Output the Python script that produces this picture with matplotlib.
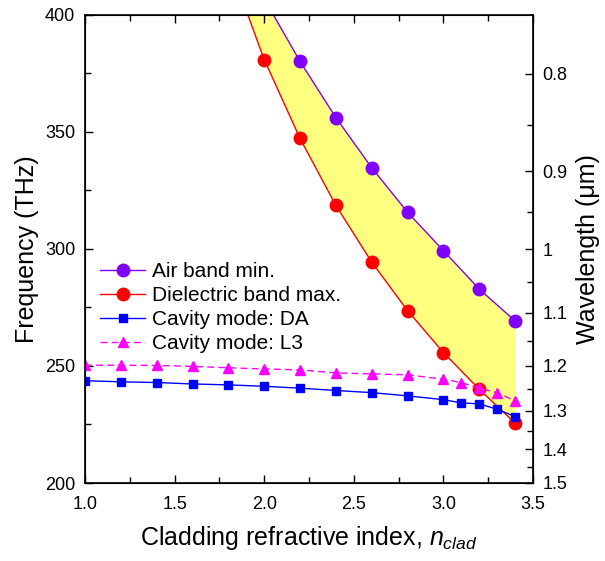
import matplotlib
matplotlib.use("Agg")
import matplotlib.pyplot as plt
from matplotlib.ticker import MultipleLocator, FixedLocator
import numpy as np

plt.rcParams['font.family'] = ['Liberation Sans', 'DejaVu Sans']
plt.rcParams['mathtext.fontset'] = 'custom'
plt.rcParams['mathtext.rm'] = 'Liberation Sans'
plt.rcParams['mathtext.it'] = 'Liberation Sans:italic'

# Air band minimum (THz)
air_x = [2.0, 2.2, 2.4, 2.6, 2.8, 3.0, 3.2, 3.4]
air_f = [406.7, 380.0, 356.0, 334.6, 315.6, 299.2, 282.8, 269.2]

# Dielectric band maximum (THz)
diel_x = [1.8, 2.0, 2.2, 2.4, 2.6, 2.8, 3.0, 3.2, 3.4]
diel_f = [422.5, 380.8, 347.1, 318.5, 294.3, 273.6, 255.7, 240.0, 225.6]

# Cavity modes
cav_x = [1.0, 1.2, 1.4, 1.6, 1.8, 2.0, 2.2, 2.4, 2.6, 2.8, 3.0, 3.1, 3.2, 3.3, 3.4]
da_f = [243.7, 243.2, 242.9, 242.3, 241.9, 241.3, 240.5, 239.5, 238.6, 237.2,
        235.6, 234.2, 233.8, 231.5, 228.4]
l3_f = [250.3, 250.3, 250.2, 249.8, 249.2, 248.7, 248.3, 247.0, 246.6, 246.2,
        244.3, 242.9, 240.5, 238.6, 235.0]

wl_major = [0.8, 0.9, 1.0, 1.1, 1.2, 1.3, 1.4, 1.5]
wl_major_labels = ['0.8', '0.9', '1', '1.1', '1.2', '1.3', '1.4', '1.5']
wl_minor = [0.85, 0.95, 1.05, 1.15, 1.25, 1.35, 1.45]
c_light = 299.792458  # um*THz

fig = plt.figure(figsize=(6.05, 5.61), dpi=100)
ax = fig.add_axes([0.1405, 0.139, 0.7405, 0.835])

# yellow band gap fill
poly_x = list(air_x) + list(diel_x[::-1])
poly_y = list(air_f) + list(diel_f[::-1])
ax.fill(poly_x, poly_y, color='#FFFF80', lw=0, zorder=1)

ax.plot(air_x, air_f, '-o', color='#8000FF', mfc='#8000FF', mec='#8000FF',
        ms=9, lw=1, label='Air band min.', zorder=3)
ax.plot(diel_x, diel_f, '-o', color='#FF0000', mfc='#FF0000', mec='#FF0000',
        ms=9, lw=1, label='Dielectric band max.', zorder=3)
ax.plot(cav_x, da_f, '-s', color='#0000FF', ms=5.5, lw=1,
        label='Cavity mode: DA', zorder=4)
ax.plot(cav_x, l3_f, '--^', color='#FF00FF', ms=7, lw=1,
        dashes=(5, 3), label='Cavity mode: L3', zorder=4)

ax.set_xlim(1.0, 3.5)
ax.set_ylim(200, 400)
ax.xaxis.set_major_locator(MultipleLocator(0.5))
ax.xaxis.set_minor_locator(MultipleLocator(0.25))
ax.yaxis.set_major_locator(MultipleLocator(50))
ax.yaxis.set_minor_locator(MultipleLocator(25))
ax.xaxis.set_major_formatter(matplotlib.ticker.FormatStrFormatter('%.1f'))

ax.tick_params(axis='both', which='major', direction='in', length=6, width=1,
               labelsize=13, top=True, right=False)
ax.tick_params(axis='x', which='major', pad=9)
ax.tick_params(axis='y', which='major', pad=7)
ax.tick_params(axis='both', which='minor', direction='in', length=4, width=1,
               top=True, right=False)
for s in ax.spines.values():
    s.set_linewidth(1.2)

ax.set_xlabel('Cladding refractive index, $n_{clad}$', fontsize=18, labelpad=8)
ax.set_ylabel('Frequency (THz)', fontsize=18, labelpad=4)

ax2 = ax.twinx()
ax2.set_ylim(199.8, 400)
ax2.yaxis.set_major_locator(FixedLocator([c_light / w for w in wl_major]))
ax2.set_yticklabels(wl_major_labels)
ax2.yaxis.set_minor_locator(FixedLocator([c_light / w for w in wl_minor]))
ax2.tick_params(axis='y', which='major', direction='in', length=6, width=1,
                labelsize=13, pad=7)
ax2.tick_params(axis='y', which='minor', direction='in', length=4, width=1)
ax2.set_ylabel('Wavelength (\u03bcm)', fontsize=18, labelpad=6)

leg = ax.legend(loc='upper left', bbox_to_anchor=(0.0, 0.503), frameon=False,
                fontsize=15, handlelength=2.2, handletextpad=0.3,
                labelspacing=0.24, borderaxespad=0.3)

fig.savefig('out.png', dpi=100)
